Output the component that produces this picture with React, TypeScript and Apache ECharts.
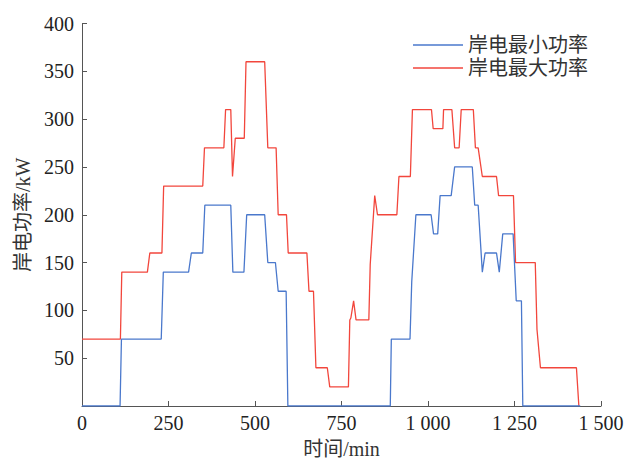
import React, { useEffect, useRef } from "react";
import * as echarts from "echarts";

const minName = "岸电最小功率";
const maxName = "岸电最大功率";

const minTimes = [0, 110, 114, 229, 235, 308, 316, 349, 355, 430, 436, 468, 476, 528, 537, 559, 567, 590, 595, 891, 894, 948, 953, 965, 1009, 1016, 1028, 1035, 1067, 1077, 1128, 1135, 1145, 1157, 1165, 1198, 1206, 1216, 1246, 1255, 1270, 1274, 1440];
const minValues = [0, 0, 70, 70, 140, 140, 160, 160, 210, 210, 140, 140, 200, 200, 150, 150, 120, 120, 0, 0, 70, 70, 130, 200, 200, 180, 180, 220, 220, 250, 250, 210, 210, 140, 160, 160, 140, 180, 180, 110, 110, 0, 0];

const maxTimes = [0, 111, 115, 189, 196, 231, 236, 349, 354, 410, 415, 430, 435, 443, 469, 474, 528, 537, 561, 567, 591, 596, 650, 656, 669, 676, 709, 716, 770, 774, 777, 785, 792, 829, 833, 846, 854, 910, 916, 949, 955, 1010, 1015, 1043, 1045, 1069, 1077, 1090, 1096, 1131, 1137, 1145, 1157, 1198, 1204, 1247, 1253, 1310, 1315, 1325, 1429, 1436];
const maxValues = [70, 70, 140, 140, 160, 160, 230, 230, 270, 270, 310, 310, 240, 280, 280, 360, 360, 270, 270, 200, 200, 160, 160, 120, 120, 40, 40, 20, 20, 90, 92, 110, 90, 90, 148, 220, 200, 200, 240, 240, 310, 310, 290, 290, 310, 310, 270, 270, 310, 310, 270, 270, 240, 240, 220, 220, 150, 150, 80, 40, 40, 0];

const xTicks = { min: 0, max: 1500, interval: 250 };
const yTicks = { min: 0, max: 400, interval: 50 };

const zip = (t: number[], v: number[]) => t.map((x, i) => [x, v[i]]);

const FONT = "'Liberation Serif', 'Noto Sans CJK SC', serif";

export default function App() {
  const ref = useRef<HTMLDivElement>(null);
  useEffect(() => {
    if (!ref.current) return;
    const chart = echarts.init(ref.current, null, { renderer: "svg" });
    const axisLine = { show: true, lineStyle: { color: "#555", width: 1 } };
    chart.setOption({
      animation: false,
      backgroundColor: "#fff",
      textStyle: { fontFamily: FONT },
      grid: { left: 82, right: 27, top: 23.5, bottom: 53, containLabel: false, outerBoundsMode: "none" },
      legend: {
        orient: "vertical",
        left: 408,
        top: 30,
        itemWidth: 50,
        itemHeight: 14,
        itemGap: 3,
        icon: "path://M0,6.35 L50,6.35 L50,7.65 L0,7.65 Z",
        data: [minName, maxName],
        textStyle: { fontFamily: FONT, fontSize: 20, color: "#333", lineHeight: 20 },
      },
      xAxis: {
        type: "value",
        ...xTicks,
        name: "时间/min",
        nameLocation: "middle",
        nameGap: 33,
        nameTextStyle: { fontFamily: FONT, fontSize: 20, color: "#333" },
        axisLine,
        axisTick: { show: true, inside: true, length: 5, lineStyle: { color: "#555" } },
        axisLabel: {
          fontFamily: FONT,
          fontSize: 20,
          color: "#222",
          margin: 7,
          formatter: (v: number) => (v >= 1000 ? `${Math.floor(v / 1000)} ${String(v % 1000).padStart(3, "0")}` : `${v}`),
        },
        splitLine: { show: false },
      },
      yAxis: {
        type: "value",
        ...yTicks,
        name: "岸电功率/kW",
        nameLocation: "middle",
        nameGap: 48,
        nameTextStyle: { fontFamily: FONT, fontSize: 20, color: "#333" },
        axisLine,
        axisTick: { show: true, inside: true, length: 5, lineStyle: { color: "#555" } },
        axisLabel: {
          fontFamily: FONT,
          fontSize: 20,
          color: "#222",
          margin: 8,
          formatter: (v: number) => (v === 0 ? "" : `${v}`),
        },
        splitLine: { show: false },
      },
      series: [
        {
          name: maxName,
          type: "line",
          data: zip(maxTimes, maxValues),
          symbol: "none",
          showSymbol: false,
          lineStyle: { color: "#f2463c", width: 1.3 },
          itemStyle: { color: "#f2463c" },
          z: 2,
        },
        {
          name: minName,
          type: "line",
          data: zip(minTimes, minValues),
          symbol: "none",
          showSymbol: false,
          lineStyle: { color: "#4a78cc", width: 1.3 },
          itemStyle: { color: "#4a78cc" },
          z: 3,
        },
      ],
    });
    return () => chart.dispose();
  }, []);
  return <div ref={ref} style={{ width: 628, height: 459, position: "absolute", left: 0, top: 0 }} />;
}
